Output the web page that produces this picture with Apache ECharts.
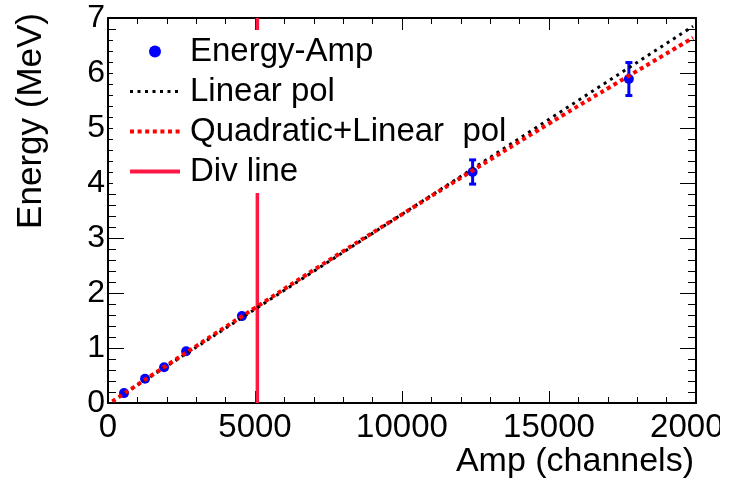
<!DOCTYPE html>
<html>
<head>
<meta charset="utf-8">
<script src="https://cdn.jsdelivr.net/npm/echarts@6/dist/echarts.min.js"></script>
<style>
html,body{margin:0;padding:0;background:#fff;}
#chart{width:720px;height:484px;}
</style>
</head>
<body>
<div id="chart"></div>
<script>
// Measured points (Amp in channels, Energy in MeV, error in MeV)
const ampValues    = [545, 1260, 1908, 2658, 4555, 12402, 17717];
const energyValues = [0.18, 0.44, 0.65, 0.94, 1.58, 4.20, 5.89];
const energyErrors = [0.03, 0.03, 0.03, 0.03, 0.03, 0.22, 0.30];

// Linear fit line
const linearAmp    = [150, 19900];
const linearEnergy = [0.03, 6.85];

// Quadratic+linear fit line
const quadAmp    = [150, 2500, 5000, 7500, 10000, 12500, 15000, 17500, 19900];
const quadEnergy = [0.03, 0.86, 1.73, 2.59, 3.43, 4.26, 5.08, 5.88, 6.64];

// Division line
const divAmp    = [5080, 5080];
const divEnergy = [0, 7];

const legendNames = ['Energy-Amp', 'Linear pol', 'Quadratic+Linear  pol', 'Div line'];
const xTitle = 'Amp (channels)';
const yTitle = 'Energy (MeV)';

const FONT = 'Liberation Sans';
const zip = (a, b) => a.map((v, i) => [v, b[i]]);

const chart = echarts.init(document.getElementById('chart'));

const axisCommon = {
  axisLine: { show: true, onZero: false, lineStyle: { color: '#000', width: 2 } },
  splitLine: { show: false }
};
const DIV_COLOR = '#ff1744';

const option = {
  animation: false,
  backgroundColor: '#fff',
  grid: { left: 108, right: 24, top: 18, bottom: 81, containLabel: false, outerBoundsMode: 'none' },
  xAxis: [
    Object.assign({}, axisCommon, {
      type: 'value', min: 0, max: 20000, interval: 5000, position: 'bottom',
      axisTick: { inside: true, length: 12, lineStyle: { color: '#000', width: 1 } },
      minorTick: { show: true, splitNumber: 5, length: 6, lineStyle: { color: '#000', width: 1 } },
      axisLabel: { fontFamily: FONT, fontSize: 33, color: '#000', margin: 8, showMaxLabel: true, showMinLabel: true, hideOverlap: false,
        formatter: v => String(v) }
    }),
    Object.assign({}, axisCommon, {
      type: 'value', min: 0, max: 20000, interval: 5000, position: 'top',
      axisTick: { inside: true, length: 12, lineStyle: { color: '#000', width: 1 } },
      minorTick: { show: true, splitNumber: 5, length: 6, lineStyle: { color: '#000', width: 1 } },
      axisLabel: { show: false }
    })
  ],
  yAxis: [
    Object.assign({}, axisCommon, {
      type: 'value', min: 0, max: 7, interval: 1, position: 'left',
      axisTick: { inside: true, length: 16, lineStyle: { color: '#000', width: 1 } },
      minorTick: { show: true, splitNumber: 5, length: 8, lineStyle: { color: '#000', width: 1 } },
      axisLabel: { fontFamily: FONT, fontSize: 32, color: '#000', margin: 3, showMaxLabel: true, showMinLabel: true, hideOverlap: false,
        formatter: v => String(v) }
    }),
    Object.assign({}, axisCommon, {
      type: 'value', min: 0, max: 7, interval: 1, position: 'right',
      axisTick: { inside: true, length: 16, lineStyle: { color: '#000', width: 1 } },
      minorTick: { show: true, splitNumber: 5, length: 8, lineStyle: { color: '#000', width: 1 } },
      axisLabel: { show: false }
    })
  ],
  legend: {
    orient: 'vertical',
    left: 113, top: 30,
    padding: [5, 10, 5, 15],
    backgroundColor: '#fff',
    itemWidth: 50, itemHeight: 12, itemGap: 7,
    textStyle: { fontFamily: FONT, fontSize: 33, color: '#000', padding: [0, 0, 0, 5] },
    data: [
      { name: legendNames[0], icon: 'circle' },
      { name: legendNames[1], itemStyle: { opacity: 0 }, lineStyle: { width: 3, type: [3, 4.5] } },
      { name: legendNames[2], itemStyle: { opacity: 0 }, lineStyle: { width: 4, type: [4, 3.6] } },
      { name: legendNames[3], itemStyle: { opacity: 0 }, lineStyle: { width: 4, type: 'solid' } }
    ],
    z: 2
  },
  graphic: [
    { type: 'text', x: 31, y: 13, rotation: Math.PI / 2,
      style: { text: yTitle, fontFamily: FONT, fontSize: 35, fill: '#000', textAlign: 'right', textVerticalAlign: 'middle' } },
    { type: 'text', x: 694, y: 462,
      style: { text: xTitle, fontFamily: FONT, fontSize: 34, fill: '#000', textAlign: 'right', textVerticalAlign: 'middle' } }
  ],
  series: [
    {
      name: legendNames[3], type: 'line', z: 1,
      data: zip(divAmp, divEnergy),
      symbol: 'none', showSymbol: false,
      lineStyle: { color: DIV_COLOR, width: 3.5, type: 'solid' },
      itemStyle: { color: DIV_COLOR }
    },
    {
      name: 'errors', type: 'custom', z: 3,
      data: ampValues.map((x, i) => [x, energyValues[i], energyErrors[i]]),
      renderItem: function (params, api) {
        const x = api.value(0), y = api.value(1), e = api.value(2);
        const lo = api.coord([x, y - e]);
        const hi = api.coord([x, y + e]);
        const style = { stroke: '#0000ff', lineWidth: 3 };
        return {
          type: 'group',
          children: [
            { type: 'line', shape: { x1: lo[0], y1: lo[1], x2: hi[0], y2: hi[1] }, style: style },
            { type: 'line', shape: { x1: lo[0] - 3.5, y1: lo[1], x2: lo[0] + 3.5, y2: lo[1] }, style: style },
            { type: 'line', shape: { x1: hi[0] - 3.5, y1: hi[1], x2: hi[0] + 3.5, y2: hi[1] }, style: style }
          ]
        };
      }
    },
    {
      name: legendNames[0], type: 'scatter', z: 4,
      data: zip(ampValues, energyValues),
      symbol: 'circle', symbolSize: 10,
      itemStyle: { color: '#0000ff', opacity: 1 }
    },
    {
      name: legendNames[1], type: 'line', z: 5,
      data: zip(linearAmp, linearEnergy),
      symbol: 'none', showSymbol: false,
      lineStyle: { color: '#000', width: 3, type: [3, 4.5] },
      itemStyle: { color: '#000' }
    },
    {
      name: legendNames[2], type: 'line', z: 6, smooth: true,
      data: zip(quadAmp, quadEnergy),
      symbol: 'none', showSymbol: false,
      lineStyle: { color: '#ff0000', width: 4, type: [4, 3.6] },
      itemStyle: { color: '#ff0000' }
    }
  ]
};
chart.setOption(option);
</script>
</body>
</html>
